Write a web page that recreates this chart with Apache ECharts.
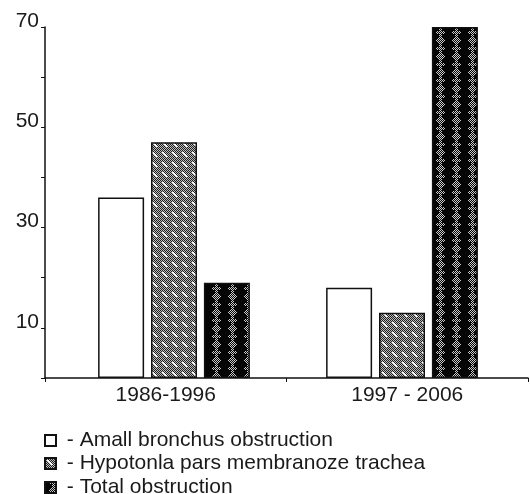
<!DOCTYPE html>
<html>
<head>
<meta charset="utf-8">
<script src="https://cdn.jsdelivr.net/npm/echarts@6/dist/echarts.min.js"></script>
<style>html,body{margin:0;padding:0;background:#fff}#c{width:530px;height:494px}</style>
</head>
<body>
<div id="c"></div>
<script>
var categories = ['1986-1996', '1997 - 2006'];
var seriesNames = ['Amall bronchus obstruction', 'Hypotonla pars membranoze trachea', 'Total obstruction'];
var smallBronchus = [36, 18];
var hypotonia = [47, 13];
var totalObstruction = [19, 70];
var yLabelValues = [10, 30, 50, 70];

function makeTile(size, painter) {
  var c = document.createElement('canvas');
  c.width = size; c.height = size;
  var ctx = c.getContext('2d');
  painter(ctx, size);
  return c;
}
var hatchTile = makeTile(10, function (ctx, s) {
  for (var y = 0; y < s; y++) for (var x = 0; x < s; x++) {
    ctx.fillStyle = ((x + y) % 2 === 0) ? '#1e1e1e' : '#bdbdbd';
    ctx.fillRect(x, y, 1, 1);
  }
  ctx.fillStyle = '#ffffff';
  for (var k = 2; k < 7; k++) { ctx.fillRect(k, k, 1, 1); ctx.fillRect(k + 1, k, 1, 1); }
});
var darkTile = makeTile(16, function (ctx, s) {
  ctx.fillStyle = '#050505';
  ctx.fillRect(0, 0, s, s);
  for (var y = 0; y < s; y++) for (var x = 0; x < s; x++) {
    var d = Math.abs(x - 8) + Math.abs(y - 8);
    var cross = Math.abs(x - 8) <= 1 || (Math.abs(y - 0) <= 1 || Math.abs(y - 16) <= 1) && Math.abs(x - 8) <= 4;
    if ((d <= 4 || cross) && (x + y) % 2 === 0) {
      ctx.fillStyle = '#c8c8c8';
      ctx.fillRect(x, y, 1, 1);
    }
  }
});

var font = '"Liberation Sans", Arial, sans-serif';
var chart = echarts.init(document.getElementById('c'), null, {renderer: 'canvas'});
var common = {
  type: 'bar', xAxisIndex: 1, yAxisIndex: 1,
  barWidth: 46, barGap: '15%'
};
var legendTops = [430, 453, 477];
var legends = seriesNames.map(function (n, i) {
  return {
    orient: 'vertical', left: 44, top: legendTops[i], padding: 0,
    itemWidth: 11, itemHeight: 11, icon: 'rect',
    textStyle: {fontSize: 21, color: '#1a1a1a', fontFamily: font},
    formatter: function (name) { return ' - ' + name; },
    data: [n]
  };
});
chart.setOption({
  animation: false,
  backgroundColor: '#ffffff',
  textStyle: {fontFamily: font},
  grid: [
    {left: 45, right: 2, top: 27, bottom: 116},
    {left: 60, right: 14, top: 27, bottom: 116}
  ],
  xAxis: [
    {
      gridIndex: 0, type: 'category', data: categories,
      axisLine: {lineStyle: {color: '#111', width: 1.5}},
      axisTick: {show: true, length: 4, lineStyle: {color: '#111'}},
      axisLabel: {fontSize: 21, color: '#1a1a1a', margin: 7, fontFamily: font}
    },
    {gridIndex: 1, type: 'category', data: categories, show: false}
  ],
  yAxis: [
    {
      gridIndex: 0, type: 'value', min: 0, max: 70, interval: 10,
      splitLine: {show: false},
      axisLine: {show: true, lineStyle: {color: '#111', width: 1.5}},
      axisTick: {show: true, length: 4, lineStyle: {color: '#111'}},
      axisLabel: {
        fontSize: 21, color: '#1a1a1a', margin: 6, fontFamily: font,
        verticalAlign: 'bottom', lineHeight: 12,
        formatter: function (v) { return yLabelValues.indexOf(v) >= 0 ? String(v) : ''; }
      }
    },
    {gridIndex: 1, type: 'value', min: 0, max: 70, interval: 10, show: false, splitLine: {show: false}}
  ],
  legend: legends,
  series: [
    Object.assign({}, common, {
      name: seriesNames[0], data: smallBronchus,
      itemStyle: {color: '#ffffff', borderColor: '#111', borderWidth: 1.5}
    }),
    Object.assign({}, common, {
      name: seriesNames[1], data: hypotonia,
      itemStyle: {color: {image: hatchTile, repeat: 'repeat'}, borderColor: '#111', borderWidth: 1.5}
    }),
    Object.assign({}, common, {
      name: seriesNames[2], data: totalObstruction,
      itemStyle: {color: {image: darkTile, repeat: 'repeat'}, borderColor: '#111', borderWidth: 1.5}
    })
  ]
});
</script>
</body>
</html>
